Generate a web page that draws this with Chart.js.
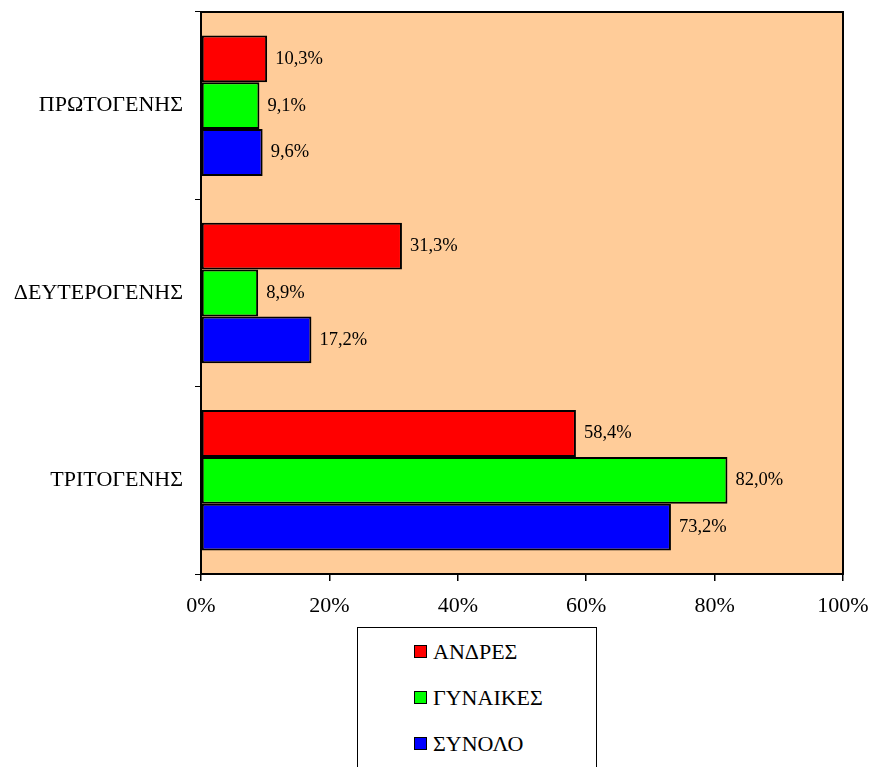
<!DOCTYPE html>
<html>
<head>
<meta charset="utf-8">
<script src="https://cdn.jsdelivr.net/npm/chart.js@4/dist/chart.umd.min.js"></script>
<style>
  html, body { margin: 0; padding: 0; background: #fff; overflow: hidden; }
  .wrap { position: relative; width: 872px; height: 767px; }
  canvas { display: block; }
  .legend {
    position: absolute; left: 357px; top: 627px; width: 240px; height: 160px;
    border: 1px solid #000; background: #fff; box-sizing: border-box;
    font-family: "Liberation Serif", "Times New Roman", serif; font-size: 22px; color: #000;
  }
  .legend .item { position: absolute; left: 56px; height: 22px; line-height: 22px; white-space: nowrap; }
  .legend .sw {
    display: inline-block; width: 11px; height: 11px; border: 1.5px solid #000;
    vertical-align: middle; margin-right: 6px; position: relative; top: -2px;
  }
</style>
</head>
<body>
<div class="wrap">
  <canvas id="chart" width="872" height="767"></canvas>
  <div class="legend" id="legend"></div>
</div>
<script>
// ===== Τομείς απασχόλησης =====
const CATEGORIES = ["ΠΡΩΤΟΓΕΝΗΣ", "ΔΕΥΤΕΡΟΓΕΝΗΣ", "ΤΡΙΤΟΓΕΝΗΣ"];
const SERIES = ["ΑΝΔΡΕΣ", "ΓΥΝΑΙΚΕΣ", "ΣΥΝΟΛΟ"];
const ANDRES = [10.3, 31.3, 58.4];
const GYNAIKES = [9.1, 8.9, 82.0];
const SYNOLO = [9.6, 17.2, 73.2];
const COLORS = ["#ff0000", "#00ff00", "#0000ff"];

const FONT = "'Liberation Serif', 'Times New Roman', serif";
const el = (id) => document.getElementById(id);
const fmt = v => v.toFixed(1).replace(".", ",") + "%";

// peach plot background + frame
const plotBg = {
  id: "plotBg",
  beforeDraw(chart) {
    const { ctx, chartArea: a } = chart;
    ctx.save();
    ctx.fillStyle = "#ffcc99";
    ctx.fillRect(a.left, a.top, a.right - a.left, a.bottom - a.top);
    ctx.restore();
  },
  afterDraw(chart) {
    const { ctx, chartArea: a } = chart;
    ctx.save();
    ctx.strokeStyle = "#000";
    ctx.lineWidth = 2;
    ctx.strokeRect(a.left, a.top, a.right - a.left, a.bottom - a.top);
    ctx.restore();
  }
};

// value labels right of each bar
const valueLabels = {
  id: "valueLabels",
  afterDatasetsDraw(chart) {
    const ctx = chart.ctx;
    ctx.save();
    ctx.font = "18.5px " + FONT;
    ctx.fillStyle = "#000";
    ctx.textAlign = "left";
    ctx.textBaseline = "middle";
    chart.data.datasets.forEach((ds, i) => {
      chart.getDatasetMeta(i).data.forEach((bar, j) => {
        ctx.fillText(fmt(ds.data[j]), bar.x + 8, bar.y);
      });
    });
    ctx.restore();
  }
};

// keep the plot box fixed: no extra room for label overflow
const noPad = s => { s.paddingTop = 0; s.paddingBottom = 0; s.paddingLeft = 0; s.paddingRight = 0; };

const values = [ANDRES, GYNAIKES, SYNOLO];

new Chart(el("chart"), {
  type: "bar",
  data: {
    labels: CATEGORIES,
    datasets: SERIES.map((name, i) => ({
      label: name,
      data: values[i],
      backgroundColor: COLORS[i],
      borderColor: "#000",
      borderWidth: 2,
      borderSkipped: false,
      categoryPercentage: 0.75,
      barPercentage: 1
    }))
  },
  options: {
    indexAxis: "y",
    responsive: false,
    animation: false,
    layout: { padding: { top: 12, right: 29, bottom: 133, left: 0 } },
    plugins: { legend: { display: false }, tooltip: { enabled: false } },
    scales: {
      x: {
        min: 0, max: 100,
        afterFit: s => { s.height = 60; noPad(s); },
        grid: { drawOnChartArea: false, color: "#000", tickLength: 7, lineWidth: 1.5 },
        border: { color: "#000", width: 2 },
        ticks: { stepSize: 20, color: "#000", padding: 12, font: { family: FONT, size: 22 }, callback: v => v + "%" }
      },
      y: {
        afterFit: s => { s.width = 201; noPad(s); },
        grid: { drawOnChartArea: false, color: "#000", tickLength: 6, lineWidth: 1, offset: true },
        border: { color: "#000", width: 2 },
        ticks: { color: "#000", padding: 12, font: { family: FONT, size: 22 } }
      }
    }
  },
  plugins: [plotBg, valueLabels]
});

// legend
const tops = [13, 59, 105];
SERIES.forEach((name, i) => {
  const d = document.createElement("div");
  d.className = "item";
  d.style.top = tops[i] + "px";
  d.innerHTML = `<span class="sw" style="background:${COLORS[i]}"></span>${name}`;
  el("legend").appendChild(d);
});
</script>
</body>
</html>
